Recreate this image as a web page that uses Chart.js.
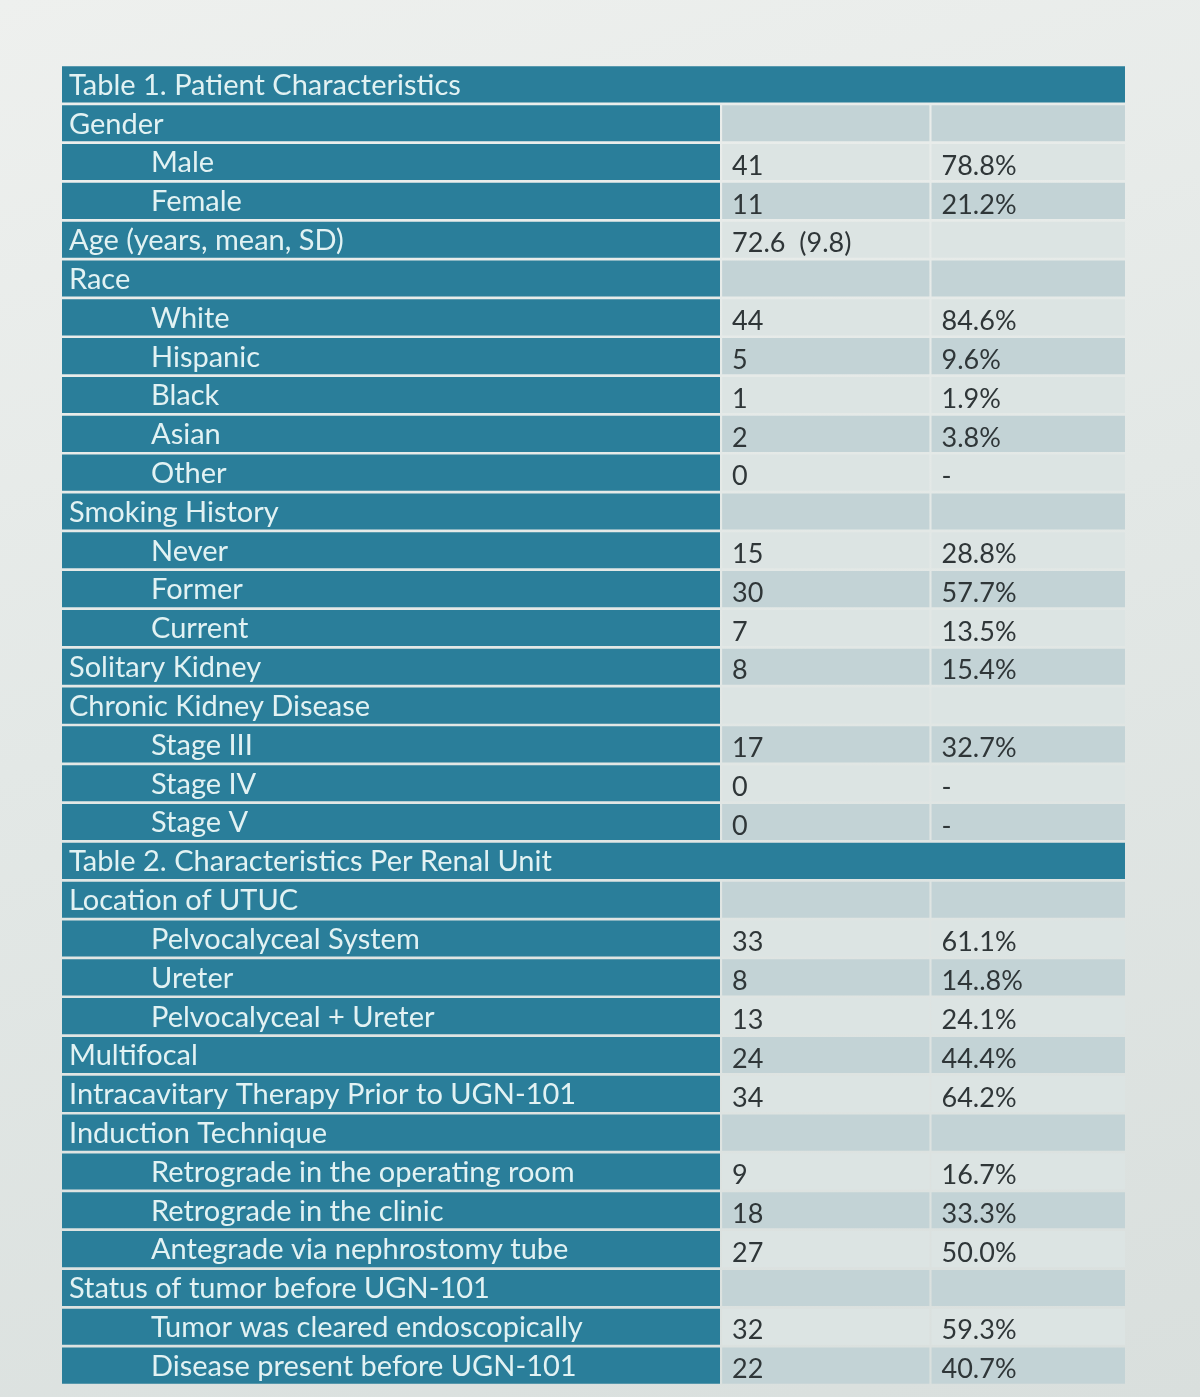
<!DOCTYPE html>
<html>
<head>
<meta charset="utf-8">
<script src="https://cdn.jsdelivr.net/npm/chart.js@4.4.1/dist/chart.umd.min.js"></script>
<style>
  html, body { margin: 0; padding: 0; }
  body { width: 1200px; height: 1397px; background: linear-gradient(165deg, #eef0ee 0%, #e3e8e6 45%, #d9dfdd 100%); }
  #wrap { width: 1200px; height: 1397px; }
</style>
</head>
<body>
<div id="wrap"><canvas id="c" width="1200" height="1397"></canvas></div>
<script>
// ---- Data ----
const rowLabels = [
  "Table 1. Patient Characteristics",
  "Gender", "Male", "Female", "Age (years, mean, SD)",
  "Race", "White", "Hispanic", "Black", "Asian", "Other",
  "Smoking History", "Never", "Former", "Current",
  "Solitary Kidney", "Chronic Kidney Disease", "Stage III", "Stage IV", "Stage V",
  "Table 2. Characteristics Per Renal Unit",
  "Location of UTUC", "Pelvocalyceal System", "Ureter", "Pelvocalyceal + Ureter",
  "Multifocal", "Intracavitary Therapy Prior to UGN-101",
  "Induction Technique", "Retrograde in the operating room", "Retrograde in the clinic", "Antegrade via nephrostomy tube",
  "Status of tumor before UGN-101", "Tumor was cleared endoscopically", "Disease present before UGN-101"
];
const indentLevels = [
  0,
  0, 1, 1, 0,
  0, 1, 1, 1, 1, 1,
  0, 1, 1, 1,
  0, 0, 1, 1, 1,
  0,
  0, 1, 1, 1,
  0, 0,
  0, 1, 1, 1,
  0, 1, 1
];
const titleRows = [0, 20];
const counts = [
  "",
  "", "41", "11", "72.6  (9.8)",
  "", "44", "5", "1", "2", "0",
  "", "15", "30", "7",
  "8", "", "17", "0", "0",
  "",
  "", "33", "8", "13",
  "24", "34",
  "", "9", "18", "27",
  "", "32", "22"
];
const percents = [
  "",
  "", "78.8%", "21.2%", "",
  "", "84.6%", "9.6%", "1.9%", "3.8%", "-",
  "", "28.8%", "57.7%", "13.5%",
  "15.4%", "", "32.7%", "-", "-",
  "",
  "", "61.1%", "14..8%", "24.1%",
  "44.4%", "64.2%",
  "", "16.7%", "33.3%", "50.0%",
  "", "59.3%", "40.7%"
];

// ---- Layout constants (column boundaries on 0..100 x scale) ----
const COL_LABEL_END = 61.9;
const COL_COUNT_START = 62.1, COL_COUNT_END = 81.6;
const COL_PCT_START = 81.8, COL_PCT_END = 100;
const TEAL = '#2a7e9a';
const LIGHT = '#dce4e3';
const DARK = '#c3d3d6';

function isTitle(i) { return titleRows.includes(i); }
function shade(i) {
  const start = i >= titleRows[1] ? titleRows[1] + 1 : titleRows[0] + 1;
  return ((i - start) % 2 === 0) ? DARK : LIGHT;
}

const labelData = rowLabels.map((_, i) => isTitle(i) ? [0, COL_PCT_END] : [0, COL_LABEL_END]);
const countData = rowLabels.map((_, i) => isTitle(i) ? null : [COL_COUNT_START, COL_COUNT_END]);
const pctData = rowLabels.map((_, i) => isTitle(i) ? null : [COL_PCT_START, COL_PCT_END]);

const textPlugin = {
  id: 'tableText',
  afterDatasetsDraw(chart) {
    const ctx = chart.ctx;
    const xs = chart.scales.x, ys = chart.scales.y;
    ctx.save();
    ctx.textBaseline = 'middle';
    rowLabels.forEach((lab, i) => {
      const y = ys.getPixelForValue(i) + 1;
      const x0 = xs.getPixelForValue(0) + 7 + indentLevels[i] * 82;
      ctx.font = '400 29px Lato';
      ctx.fillStyle = '#e2f2f3';
      ctx.fillText(lab, x0, y);
      if (!isTitle(i)) {
        ctx.font = '400 27px Lato';
        ctx.fillStyle = '#2f3638';
        ctx.fillText(counts[i], xs.getPixelForValue(COL_COUNT_START) + 10, y + 3);
        ctx.fillText(percents[i], xs.getPixelForValue(COL_PCT_START) + 10, y + 3);
      }
    });
    ctx.restore();
  }
};

new Chart(document.getElementById('c'), {
  type: 'bar',
  data: {
    labels: rowLabels,
    datasets: [
      { label: 'labels', data: labelData, backgroundColor: TEAL },
      { label: 'n', data: countData, backgroundColor: rowLabels.map((_, i) => shade(i)) },
      { label: '%', data: pctData, backgroundColor: rowLabels.map((_, i) => shade(i)) }
    ]
  },
  options: {
    indexAxis: 'y',
    responsive: false,
    animation: false,
    devicePixelRatio: 1,
    layout: { padding: { left: 62, right: 75, top: 65, bottom: 12 } },
    datasets: { bar: { grouped: false, categoryPercentage: 1, barPercentage: 0.93, borderWidth: 0 } },
    scales: {
      x: { type: 'linear', min: 0, max: 100, display: false },
      y: { type: 'category', display: false, offset: true }
    },
    plugins: { legend: { display: false }, tooltip: { enabled: false }, title: { display: false } }
  },
  plugins: [textPlugin]
});
</script>
</body>
</html>
